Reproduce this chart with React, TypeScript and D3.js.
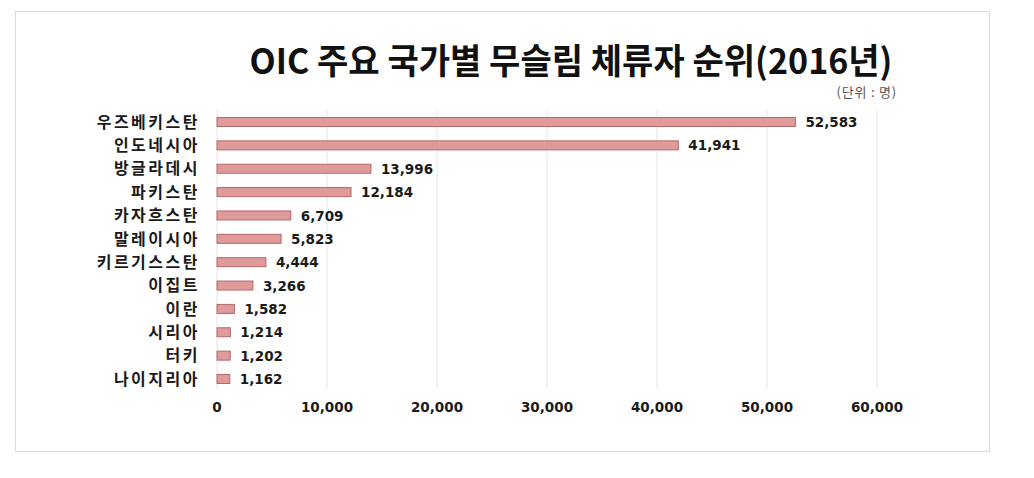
import React from "react";
import * as d3 from "d3";

const categories = ["우즈베키스탄", "인도네시아", "방글라데시", "파키스탄", "카자흐스탄", "말레이시아", "키르기스스탄", "이집트", "이란", "시리아", "터키", "나이지리아"];
const values = [52583, 41941, 13996, 12184, 6709, 5823, 4444, 3266, 1582, 1214, 1202, 1162];
const xTicks = [0, 10000, 20000, 30000, 40000, 50000, 60000];
const title = "OIC 주요 국가별 무슬림 체류자 순위(2016년)";
const unitLabel = "(단위 : 명)";

export default function App() {
  const W = 1034, H = 478;
  const x = d3.scaleLinear().domain([0, 60000]).range([217, 877]);
  const y = d3.scalePoint<string>().domain(categories).range([122, 379]);
  const fmt = d3.format(",");
  const barH = 9;
  const numFont = "'DejaVu Sans', Verdana, sans-serif";
  const krFont = "'Noto Sans CJK KR', 'Noto Sans', sans-serif";
  return (
    <svg width={W} height={H} style={{ position: "absolute", left: 0, top: 0, display: "block" }}>
      <rect x={0} y={0} width={W} height={H} fill="#fff" />
      <rect x={15.5} y={11.5} width={974} height={440} fill="#fff" stroke="#dcdcdc" strokeWidth={1} />
      <g transform="translate(571,74) scale(1,1.12)">
        <text x={0} y={0} textAnchor="middle" fontFamily={krFont} fontWeight={700} fontSize={31}
          textLength={643} lengthAdjust="spacingAndGlyphs" fill="#111">{title}</text>
      </g>
      <text x={897} y={97} textAnchor="end" fontFamily={krFont} fontSize={13} letterSpacing={0.8} fill="#555">{unitLabel}</text>
      {xTicks.map((t) => (
        <line key={"g" + t} x1={x(t)} x2={x(t)} y1={110} y2={389} stroke="#e6e6e6" strokeWidth={1} />
      ))}
      {categories.map((c, i) => (
        <g key={c}>
          <rect x={x(0)} y={(y(c) as number) - barH / 2} width={x(values[i]) - x(0)} height={barH}
            fill="#e19a9a" stroke="#b26a6a" strokeWidth={1} />
          <text x={200} y={y(c) as number} dy="0.36em" textAnchor="end" fontFamily={krFont} fontWeight={700}
            fontSize={16} letterSpacing={2.5} fill="#1a1a1a">{c}</text>
          <text x={x(values[i]) + 10} y={y(c) as number} dy="0.38em" fontFamily={numFont} fontWeight={700}
            fontSize={13.5} fill="#1a1a1a">{fmt(values[i])}</text>
        </g>
      ))}
      {xTicks.map((t) => (
        <text key={"t" + t} x={x(t)} y={407} dy="0.36em" textAnchor="middle" fontFamily={numFont} fontWeight={700}
          fontSize={13.5} fill="#1a1a1a">{fmt(t)}</text>
      ))}
    </svg>
  );
}
